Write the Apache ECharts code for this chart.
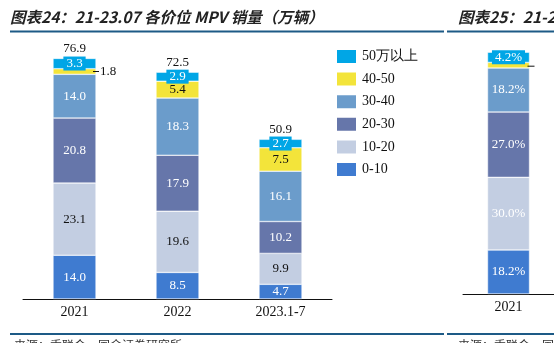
<!DOCTYPE html>
<html><head><meta charset="utf-8">
<script src="https://cdn.jsdelivr.net/npm/echarts@6/dist/echarts.min.js"></script>
<style>html,body{margin:0;padding:0;background:#fff}#c{width:554px;height:343px}</style>
</head><body><div id="c"></div>
<script>
var categories = ['2021', '2022', '2023.1-7'];
var seriesNames = ['0-10', '10-20', '20-30', '30-40', '40-50', '50万以上'];
var v0_10 = [14.0, 8.5, 4.7];
var v10_20 = [23.1, 19.6, 9.9];
var v20_30 = [20.8, 17.9, 10.2];
var v30_40 = [14.0, 18.3, 16.1];
var v40_50 = [1.8, 5.4, 7.5];
var v50p = [3.3, 2.9, 2.7];
var totals = [76.9, 72.5, 50.9];
var shareCategories = ['2021'];
var share2021 = [18.2, 30.0, 27.0, 18.2, 2.3, 4.2];

var colors = ['#3f7bd0', '#c3cee2', '#6676aa', '#6b9ccb', '#f3e43a', '#00a6e6'];
var labelColors = ['#fff', '#111', '#fff', '#fff', '#111', '#fff'];
var serif = '"Liberation Serif", "Times New Roman", serif';
var values = [v0_10, v10_20, v20_30, v30_40, v40_50, v50p];

var series = [];
values.forEach(function (arr, i) {
  var data = arr.map(function (v, j) {
    var d = { value: v };
    if (i === 4 && j === 0) {
      d.label = { position: 'right', offset: [-8, 0], formatter: '{a|}{b|1.8}',
        rich: { a: { width: 6, height: 1, backgroundColor: '#111' },
                b: { color: '#111', fontSize: 13, fontFamily: serif, padding: [0, 0, 0, 1] } } };
    }
    return d;
  });
  var lab = { show: true, position: 'inside', color: labelColors[i], fontSize: 13, fontFamily: serif,
    formatter: function (p) { return p.value.toFixed(1); } };
  if (i === 5) { lab.backgroundColor = colors[5]; lab.padding = [1, 3, 0, 3]; }
  series.push({ name: seriesNames[i], type: 'bar', stack: 'a', barWidth: 43, xAxisIndex: 0, yAxisIndex: 0,
    itemStyle: { color: colors[i], borderColor: '#fff', borderWidth: 0.5 }, label: lab, data: data });
});
series.push({ name: 'total', type: 'bar', stack: 'a', barWidth: 43, xAxisIndex: 0, yAxisIndex: 0,
  data: totals.map(function () { return 0; }),
  label: { show: true, position: 'top', distance: 3, color: '#111', fontSize: 13, fontFamily: serif,
    formatter: function (p) { return totals[p.dataIndex].toFixed(1); } } });

share2021.forEach(function (v, i) {
  var lab = { show: true, position: 'inside', color: '#fff', fontSize: 13, fontFamily: serif,
    formatter: function (p) { return p.value.toFixed(1) + '%'; } };
  if (i === 4) {
    lab = { show: true, position: 'right', offset: [-7, 1], formatter: '{a|}',
      rich: { a: { width: 7, height: 1, backgroundColor: '#111' } } };
  }
  if (i === 5) { lab.backgroundColor = colors[5]; lab.padding = [1, 3, 0, 3]; }
  series.push({ name: seriesNames[i], type: 'bar', stack: 'b', barWidth: 42, xAxisIndex: 1, yAxisIndex: 1,
    itemStyle: { color: colors[i], borderColor: '#fff', borderWidth: 0.5 }, label: lab, data: [v] });
});

var chart = echarts.init(document.getElementById('c'));
var lineColor = '#1d5a86';
chart.setOption({
  animation: false,
  grid: [
    { left: 23, top: 49, width: 309, height: 250 },
    { left: 463, top: 52, width: 104, height: 242 }
  ],
  legend: {
    data: seriesNames.slice().reverse(), orient: 'vertical', left: 335, top: 48, padding: 0,
    itemWidth: 21, itemHeight: 15, itemGap: 5.6, icon: 'rect',
    textStyle: { fontFamily: serif, fontSize: 14, color: '#111' }, selectedMode: false
  },
  xAxis: [
    { type: 'category', gridIndex: 0, data: categories, axisTick: { show: false },
      axisLine: { lineStyle: { color: '#111', width: 1 } },
      axisLabel: { fontFamily: serif, fontSize: 14, color: '#111', margin: 6 } },
    { type: 'category', gridIndex: 1, data: shareCategories, axisTick: { show: false },
      axisLine: { lineStyle: { color: '#111', width: 1 } },
      axisLabel: { fontFamily: serif, fontSize: 14, color: '#111', margin: 6 } }
  ],
  yAxis: [
    { type: 'value', gridIndex: 0, min: 0, max: 80, show: false, splitLine: { show: false } },
    { type: 'value', gridIndex: 1, min: 0, max: 100, show: false, splitLine: { show: false } }
  ],
  graphic: [
    { type: 'text', left: 10, top: 9, style: { text: '图表24：21-23.07 各价位 MPV 销量（万辆）',
      font: 'italic bold 15.5px "Noto Sans CJK SC", sans-serif', fill: '#222' } },
    { type: 'text', left: 458, top: 9, style: { text: '图表25：21-23.07 各价位 MPV 销量占比',
      font: 'italic bold 15.5px "Noto Sans CJK SC", sans-serif', fill: '#222' } },
    { type: 'rect', shape: { x: 10, y: 30.5, width: 434, height: 2 }, style: { fill: lineColor } },
    { type: 'rect', shape: { x: 447, y: 30.5, width: 107, height: 2 }, style: { fill: lineColor } },
    { type: 'rect', shape: { x: 10, y: 333, width: 434, height: 2 }, style: { fill: lineColor } },
    { type: 'rect', shape: { x: 447, y: 333, width: 107, height: 2 }, style: { fill: lineColor } },
    { type: 'text', left: 14, top: 339, style: { text: '来源：乘联会，国金证券研究所',
      font: '12px "Noto Sans CJK SC", sans-serif', fill: '#333' } },
    { type: 'text', left: 458, top: 339, style: { text: '来源：乘联会，国金证券研究所',
      font: '12px "Noto Sans CJK SC", sans-serif', fill: '#333' } }
  ],
  series: series
});
</script></body></html>
